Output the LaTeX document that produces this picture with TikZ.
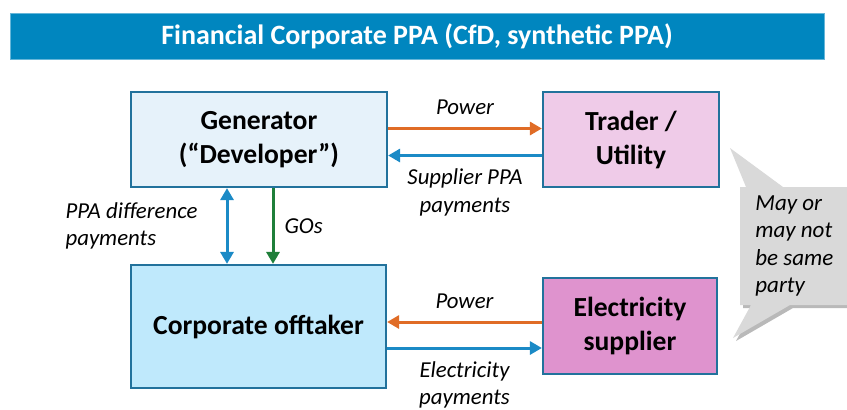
\documentclass[tikz,border=0pt]{standalone}
\usepackage{fontspec}
\setmainfont{Carlito}
\usepackage{xcolor}
\usetikzlibrary{arrows.meta, positioning, calc, shadows}

\definecolor{titleblue}{HTML}{0086BF}
\definecolor{boxedge}{HTML}{22729C}
\definecolor{genfill}{HTML}{E6F2FA}
\definecolor{traderfill}{HTML}{EFCBE8}
\definecolor{offtakerfill}{HTML}{BFE9FC}
\definecolor{supplierfill}{HTML}{DF93CE}
\definecolor{powerorange}{HTML}{E06C26}
\definecolor{payblue}{HTML}{1B8AC6}
\definecolor{gogreen}{HTML}{1F7F3A}
\definecolor{calloutgray}{HTML}{D9D9D9}

\begin{document}
\begin{tikzpicture}[
        x=0.5pt, y=-0.5pt,
        >={Triangle[length=6pt, width=6.5pt]},
        party/.style={draw=boxedge, line width=1.1pt, align=center, inner sep=0pt,
            font=\bfseries\fontsize{13.8}{17}\selectfont},
        flow/.style={->, line width=1.5pt},
        flowlabel/.style={text=black, font=\itshape\fontsize{11.4}{13.6}\selectfont, align=center, inner sep=0pt}
    ]

    \useasboundingbox (0,0) rectangle (847,409);
    \clip (0,0) rectangle (847,409);

    \node[fill=titleblue, draw=titleblue!60, minimum width=407pt, minimum height=23pt, text=white,
        font=\bfseries\fontsize{14}{16}\selectfont] (title) at (417,36) {Financial Corporate PPA (CfD, synthetic PPA)};

    % parties
    \node[party, fill=genfill, minimum width=128pt, minimum height=47.5pt] (gen) at (259,139.5) {Generator\\(“Developer”)};
    \node[party, fill=traderfill, minimum width=88pt, minimum height=47.5pt] (trader) at (631,139.5) {Trader /\\Utility};
    \node[party, fill=offtakerfill, minimum width=127.5pt, minimum height=61.5pt] (offtaker) at (258.5,326.5) {Corporate offtaker};
    \node[party, fill=supplierfill, minimum width=87pt, minimum height=48pt] (supplier) at (630,326) {Electricity\\supplier};

    % flows between the parties
    \draw[flow, powerorange] ($(gen.east)+(0,-11)$) -- ($(trader.west)+(0,-11)$)
        node[flowlabel, midway, above=6pt] (genpower) {Power};
    \draw[flow, payblue] ($(trader.west)+(0,16)$) -- ($(gen.east)+(0,16)$)
        node[flowlabel, midway, below=6pt] (ppapay) {Supplier PPA\\payments};

    \draw[flow, powerorange] ($(supplier.west)+(0,-4)$) -- ($(offtaker.east)+(0,-4.5)$)
        node[flowlabel, midway, above=6pt] (supplierpower) {Power};
    \draw[flow, payblue] ($(offtaker.east)+(0,21.5)$) -- ($(supplier.west)+(0,22)$)
        node[flowlabel, midway, below=6pt] (elecpay) {Electricity\\payments};

    \draw[flow, <->, payblue] ($(gen.south)+(-32,0)$) coordinate (diffTop) -- (diffTop |- offtaker.north)
        node[flowlabel, midway, left=14pt, align=left] (diffpay) {PPA difference\\payments};
    \draw[flow, gogreen] ($(gen.south)+(14,0)$) coordinate (goTop) -- (goTop |- offtaker.north)
        node[flowlabel, midway, right=5pt] (gos) {GOs};

    % callout
    \fill[calloutgray, drop shadow={shadow xshift=1.5pt, shadow yshift=-1.5pt, fill=black!55}]
        (740,187) -- (746,187) -- (730,148) -- (783,187) -- (870,187) -- (870,305)
        -- (790,305) -- (733,338) -- (751,305) -- (740,305) -- cycle;
    \node[font=\itshape\fontsize{11.5}{13.7}\selectfont, align=left, anchor=west, inner sep=0pt]
        (samenote) at (755,246) {May or\\may not\\be same\\party};

\end{tikzpicture}
\end{document}
